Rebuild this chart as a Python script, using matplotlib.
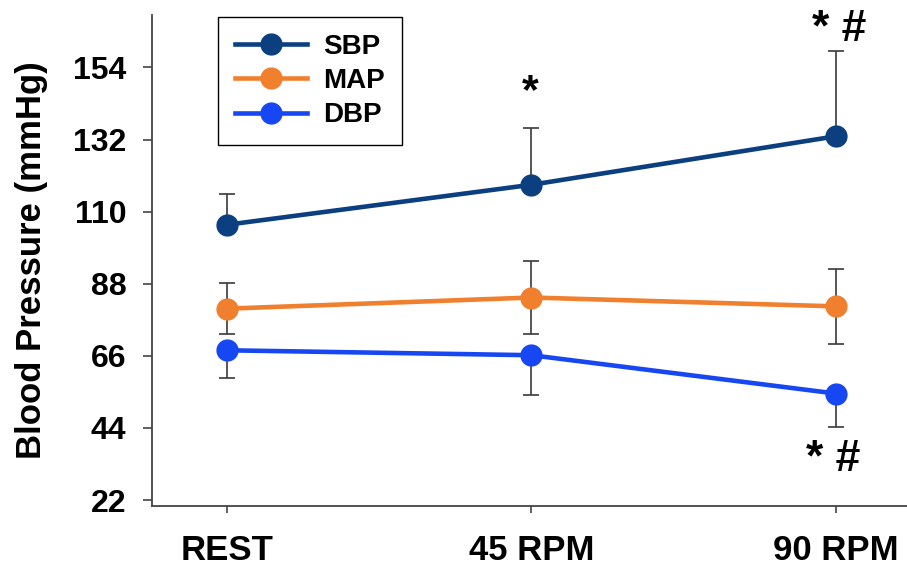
import matplotlib
matplotlib.use("Agg")
import matplotlib.pyplot as plt
import numpy as np

plt.rcParams['font.family'] = ['Liberation Sans', 'DejaVu Sans']
plt.rcParams['font.weight'] = 'bold'

# Conditions and group means / SD (mmHg)
conditions = ['REST', '45 RPM', '90 RPM']
sbp = [106.0, 118.2, 133.0]
sbp_sd = [9.5, 17.3, 26.0]
map_ = [80.4, 83.8, 81.1]
map_sd = [7.8, 11.0, 11.4]
dbp = [67.7, 66.2, 54.5]
dbp_sd = [8.5, 12.1, 10.3]

yticks = [22, 44, 66, 88, 110, 132, 154]

C_SBP = '#0b3f80'
C_MAP = '#f07f2e'
C_DBP = '#1747f2'
C_ERR = '#3a3a3a'

fig = plt.figure(figsize=(9.07, 5.67), dpi=100)
ax = fig.add_axes([0.1676, 0.1076, 0.8324, 0.866])

x = np.arange(len(conditions))
zeros = [0] * len(conditions)

# error bars first so the markers sit on top
eb = dict(fmt='none', ecolor=C_ERR, elinewidth=1.2, capsize=6, capthick=1.2, zorder=2)
ax.errorbar(x, sbp, yerr=[zeros, sbp_sd], **eb)
ax.errorbar(x, map_, yerr=[map_sd, map_sd], **eb)
ax.errorbar(x, dbp, yerr=[dbp_sd, zeros], **eb)

line = dict(lw=3.3, marker='o', markersize=15, zorder=3)
ax.plot(x, sbp, color=C_SBP, label='SBP', **line)
ax.plot(x, map_, color=C_MAP, label='MAP', **line)
ax.plot(x, dbp, color=C_DBP, label='DBP', **line)

# significance markers
ax.text(0.995, 146.5, '*', ha='center', va='center', fontsize=31, fontweight='bold')
ax.text(2.01, 165.5, '* #', ha='center', va='center', fontsize=32, fontweight='bold')
ax.text(1.99, 34.5, '* #', ha='center', va='center', fontsize=32, fontweight='bold')

ax.set_xlim(-0.246, 2.233)
ax.set_ylim(20.2, 170)
ax.set_xticks(x)
ax.set_xticklabels(conditions, fontsize=25, fontweight='bold')
ax.set_yticks(yticks)
ax.set_yticklabels([str(v) for v in yticks], fontsize=23, fontweight='bold')
ax.set_ylabel('Blood Pressure (mmHg)', fontsize=25, fontweight='bold', labelpad=18)

for side in ['top', 'right']:
    ax.spines[side].set_visible(False)
for side in ['left', 'bottom']:
    ax.spines[side].set_color('#444444')
    ax.spines[side].set_linewidth(1.3)
ax.tick_params(axis='y', direction='out', length=6.5, width=1.2, color='#444444', pad=12)
ax.tick_params(axis='x', direction='out', length=5, width=1.2, color='#444444', pad=15)

leg = fig.legend(loc='upper left', bbox_to_anchor=(0.2404, 0.970), fontsize=20,
                 frameon=True, fancybox=False, edgecolor='black', framealpha=1,
                 handlelength=2.6, handletextpad=0.6, labelspacing=0.3,
                 borderpad=0.6, borderaxespad=0)
leg.get_frame().set_linewidth(1.0)
for t in leg.get_texts():
    t.set_fontweight('bold')

fig.savefig('out.png', dpi=100, facecolor='white')
